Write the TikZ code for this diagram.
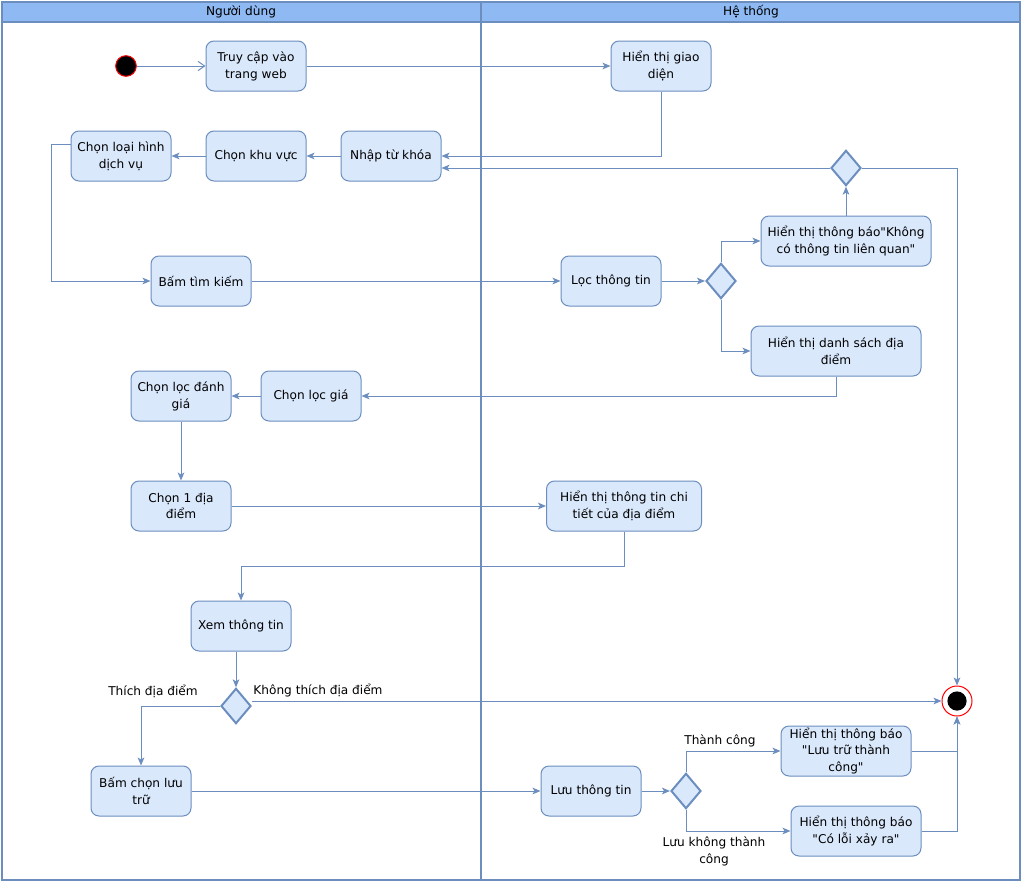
\documentclass[tikz,border=0pt]{standalone}
\usepackage{fontspec}
\setmainfont{DejaVu Sans}
\usetikzlibrary{arrows.meta,shapes.geometric,positioning}
\definecolor{lanebd}{HTML}{6C8EBF}
\definecolor{actfill}{HTML}{DAE8FC}
\definecolor{lanehead}{HTML}{8FB9F3}
\newcommand{\dq}{\textquotedbl}

\begin{document}
\begin{tikzpicture}[x=0.75pt,y=-0.75pt,
    txt/.style={font=\fontsize{9.1}{12.7}\selectfont, align=center},
    act/.style={txt, draw=lanebd, fill=actfill, line width=0.75pt, rounded corners=6pt,
        minimum width=75pt, minimum height=37.5pt, inner sep=1pt},
    decision/.style={diamond, draw=lanebd, fill=actfill, line width=1.5pt,
        minimum width=22.5pt, minimum height=26.5pt, inner sep=0pt},
    flow/.style={draw=lanebd, line width=0.75pt, -{Stealth[length=6pt,width=5pt,inset=1.5pt]}},
    openflow/.style={draw=lanebd, line width=0.75pt, -{Straight Barb[length=5pt,width=7pt]}},
    lbl/.style={txt, inner sep=0pt}]
    \useasboundingbox (0,0) rectangle (1022,882);

    % Swimlanes
    \fill[lanehead] (2,2) rectangle (1020,22);
    \draw[lanebd, line width=1.5pt] (2,2) rectangle (1020,880);
    \draw[lanebd, line width=1pt] (2,22) -- (1020,22);
    \draw[lanebd, line width=1.5pt] (481,2) -- (481,880);
    \node[txt] (userlane) at (241,12) {Người dùng};
    \node[txt] (syslane) at (751,12) {Hệ thống};

    % Start and end
    \node[circle, fill=black, draw=red, line width=0.75pt, minimum size=15.5pt, inner sep=0pt] (start) at (126,66) {};
    \node[circle, fill=white, draw=red, line width=0.75pt, minimum size=22.5pt, inner sep=0pt] (endc) at (957,701) {};
    \fill[black] (endc) circle (7.2pt);

    % User actions
    \node[act] (access) at (256,66) {Truy cập vào\\trang web};
    \node[act] (type) at (121,156) {Chọn loại hình\\dịch vụ};
    \node[act] (area) at (256,156) {Chọn khu vực};
    \node[act] (key) at (391,156) {Nhập từ khóa};
    \node[act] (search) at (201,281) {Bấm tìm kiếm};
    \node[act] (rate) at (181,396) {Chọn lọc đánh\\giá};
    \node[act] (price) at (311,396) {Chọn lọc giá};
    \node[act] (pick) at (181,506) {Chọn 1 địa\\điểm};
    \node[act] (view) at (241,626) {Xem thông tin};
    \node[decision] (dlike) at (236,706) {};
    \node[act] (save) at (141,791) {Bấm chọn lưu\\trữ};

    % System actions
    \node[act] (ui) at (661,66) {Hiển thị giao\\diện};
    \node[decision] (dnone) at (846,168) {};
    \node[act, minimum width=127.5pt] (none) at (846,241) {Hiển thị thông báo\dq Không\\có thông tin liên quan\dq};
    \node[act] (filter) at (611,281) {Lọc thông tin};
    \node[decision] (dfilt) at (721,281) {};
    \node[act, minimum width=127.5pt] (list) at (836,351) {Hiển thị danh sách địa\\điểm};
    \node[act, minimum width=116.25pt] (detail) at (624,506) {Hiển thị thông tin chi\\tiết của địa điểm};
    \node[act] (store) at (591,791) {Lưu thông tin};
    \node[decision] (dsave) at (686,791) {};
    \node[act, minimum width=97.5pt] (ok) at (846,751) {Hiển thị thông báo\\\dq Lưu trữ thành\\công\dq};
    \node[act, minimum width=97.5pt] (err) at (856,831) {Hiển thị thông báo\\\dq Có lỗi xảy ra\dq};

    % Guard labels
    \node[lbl] (likelbl) at (153,691) {Thích địa điểm};
    \node[lbl] (nolikelbl) at (318,691) {Không thích địa điểm};
    \node[lbl] (oklbl) at (720,741) {Thành công};
    \node[lbl] (errlbl) at (714,851) {Lưu không thành\\công};

    % Flows
    \draw[openflow] (start) -- (access);
    \draw[flow] (access) -- (ui);
    \draw[flow] (ui.south) |- (key.east);
    \draw[flow] (dnone.west) -- (key.east |- dnone.west);
    \draw[flow] (key) -- (area);
    \draw[flow] (area) -- (type);
    \draw[flow] ([yshift=9pt]type.west) -- ++(-19,0) |- (search.west);
    \draw[flow] (search) -- (filter);
    \draw[flow] (filter) -- (dfilt);
    \draw[flow] (dfilt.north) |- (none.west);
    \draw[flow] (dfilt.south) |- (list.west);
    \draw[flow] (none) -- (dnone);
    \draw[flow] (dnone.east) -| (endc.north);
    \draw[flow] (list.south) |- (price.east);
    \draw[flow] (price) -- (rate);
    \draw[flow] (rate) -- (pick);
    \draw[flow] (pick) -- (detail);
    \draw[flow] (detail.south) -- ++(0,35) -| (view.north);
    \draw[flow] (view.south -| dlike.north) -- (dlike.north);
    \draw[flow] (dlike.west) -| (save.north);
    \draw[flow] (dlike.east |- endc) -- (endc.west);
    \draw[flow] (save) -- (store);
    \draw[flow] (store) -- (dsave);
    \draw[flow] (dsave.north) |- (ok.west);
    \draw[flow] (dsave.south) |- (err.west);
    \draw[flow] (ok.east) -| (endc.south);
    \draw[flow] (err.east) -| (endc.south);
\end{tikzpicture}
\end{document}
